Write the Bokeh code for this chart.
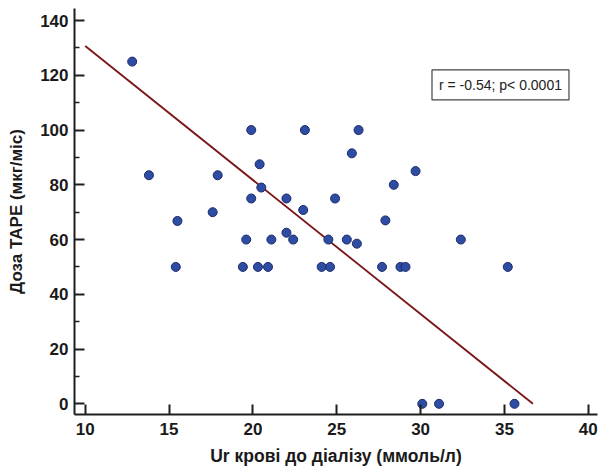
from bokeh.plotting import figure
from bokeh.models import FixedTicker, Range1d, Label, ColumnDataSource
from bokeh.embed import file_html
from bokeh.resources import INLINE

# Data
ur = [12.8, 13.8, 15.5, 17.6, 17.9, 19.9, 19.9, 20.4, 20.5, 22.0, 23.0, 22.0, 23.1,
      15.4, 19.4, 20.3, 20.9, 19.6, 21.1, 22.4, 24.5, 25.6, 26.2, 32.4,
      24.1, 24.6, 27.7, 28.8, 29.1, 35.2, 30.1, 31.1, 35.6,
      26.3, 25.9, 29.7, 28.4, 24.9, 27.9]
dose = [125, 83.5, 66.8, 70, 83.5, 100, 75, 87.5, 79, 75, 70.8, 62.5, 100,
        50, 50, 50, 50, 60, 60, 60, 60, 60, 58.5, 60,
        50, 50, 50, 50, 50, 50, 0, 0, 0,
        100, 91.5, 85, 80, 75, 67]

fit_x = [10.0, 36.7]
fit_y = [130.7, 0.0]

x_ticks = [10, 15, 20, 25, 30, 35, 40]
y_ticks = [0, 20, 40, 60, 80, 100, 120, 140]
y_minor = [10, 30, 50, 70, 90, 110, 130]

stat_text = "r = -0.54; p< 0.0001"
x_title = "Ur крові до діалізу (ммоль/л)"
y_title = "Доза ТАРЕ (мкг/міс)"

p = figure(width=600, height=468, output_backend="svg", toolbar_location=None,
           x_range=Range1d(9.36, 40.55), y_range=Range1d(-3.9, 144.4),
           min_border_left=74, min_border_right=3, min_border_top=8, min_border_bottom=53)
p.outline_line_color = None
p.grid.visible = False
p.background_fill_color = "white"
p.border_fill_color = "white"

p.line(fit_x, fit_y, line_color="#7A1414", line_width=1.8)
src = ColumnDataSource(dict(x=ur, y=dose))
p.scatter("x", "y", source=src, size=9, fill_color="#2F4CA3", line_color="#1B2B6E", line_width=1)

for ax in (p.xaxis[0], p.yaxis[0]):
    ax.axis_line_width = 2
    ax.axis_line_color = "#1e1e1e"
    ax.major_tick_line_color = "#1e1e1e"
    ax.major_tick_line_width = 2
    ax.minor_tick_line_color = "#1e1e1e"
    ax.minor_tick_line_width = 1.5
    ax.major_tick_in = 10
    ax.major_tick_out = 0
    ax.minor_tick_in = 5
    ax.minor_tick_out = 0
    ax.major_label_text_font = "Liberation Sans"
    ax.major_label_text_font_style = "bold"
    ax.major_label_text_font_size = "17px"
    ax.major_label_text_color = "#1a1a1a"
    ax.axis_label_text_font = "Liberation Sans"
    ax.axis_label_text_font_style = "bold"
    ax.axis_label_text_color = "#1a1a1a"

p.xaxis.axis_label_text_font_size = "17.5px"
p.yaxis.axis_label_text_font_size = "17px"
p.xaxis.ticker = FixedTicker(ticks=x_ticks, minor_ticks=[])
p.yaxis.ticker = FixedTicker(ticks=y_ticks, minor_ticks=y_minor)
p.xaxis.axis_label = x_title
p.yaxis.axis_label = y_title
p.xaxis.major_label_standoff = 8
p.xaxis.axis_label_standoff = 8
p.yaxis.major_label_standoff = 6
p.yaxis.axis_label_standoff = 11

lbl = Label(x=30.68, y=116.5, text=stat_text, text_font="Liberation Sans",
            text_font_size="14px", text_color="#222222", text_baseline="middle",
            text_align="left", padding=7, border_line_color="#444444", border_line_width=1.2,
            background_fill_color="white")
p.add_layout(lbl)

open("out.html", "w").write(file_html(p, INLINE))
